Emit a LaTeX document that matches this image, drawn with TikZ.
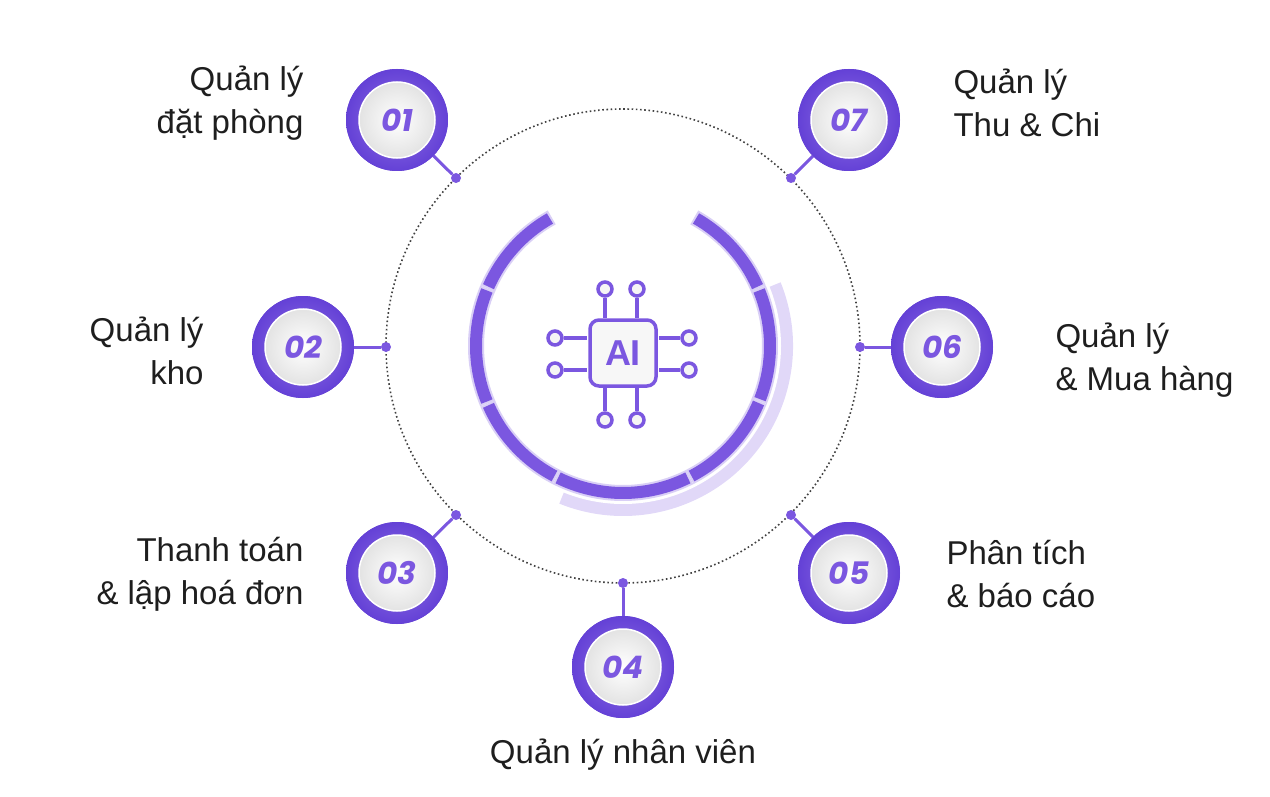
\documentclass[tikz,border=0pt]{standalone}
\usepackage{fontspec}
\setmainfont{Liberation Sans}
\newfontfamily\numfont{Poppins}
\usetikzlibrary{calc}
\definecolor{pur}{HTML}{7B57E0}
\definecolor{purd}{HTML}{6441D6}
\definecolor{purl}{HTML}{D9CFF6}
\definecolor{txt}{HTML}{1E1E1E}
\tikzset{
 badge/.style={circle,minimum size=102pt,inner sep=0pt,outer color=purd,inner color=pur!85!white},
 inner/.style={circle,minimum size=76pt,inner sep=0pt,draw=white,line width=1.5pt,inner color=white,outer color=gray!22},
 num/.style={font=\numfont\bfseries\itshape\fontsize{31}{31}\selectfont,text=pur},
 dot/.style={circle,fill=pur,minimum size=10pt,inner sep=0pt},
 conn/.style={pur,line width=3pt},
 lab/.style={font=\fontsize{33}{43}\selectfont,text=txt,align=#1},
 pin/.style={circle,draw=pur,line width=3.5pt,fill=gray!8,minimum size=14pt,inner sep=0pt},
 wire/.style={pur,line width=3.5pt},
}
\begin{document}
\begin{tikzpicture}[x=1pt,y=-1pt]
\useasboundingbox (0,0) rectangle (1270,797);
\coordinate (C) at (623,346);
% shadow crescent
\fill[purl!80] ($(C)+(-22:170)$) arc[start angle=-22,end angle=112,radius=170] -- ($(C)+(112:150)$) arc[start angle=112,end angle=-22,radius=150] -- cycle;
\fill[white] (C) circle[radius=158];
% dotted circle
\draw[dash pattern=on 1.6pt off 2.6pt,line width=1.6pt,black!75] (C) circle[radius=237];
% segmented ring
\foreach \a/\b in {119/157,157/203,203/243,243/297,297/338,338/383,23/61}{
 \draw[purl,line width=16pt] ($(C)+(-\a:147)$) arc[start angle=-\a,end angle=-\b,radius=147];
}
\foreach \a/\b in {119.8/156.2,157.8/202.2,203.8/242.2,243.8/296.2,297.8/337.2,338.8/382.2,23.8/60.2}{
 \draw[pur,line width=12pt] ($(C)+(-\a:147)$) arc[start angle=-\a,end angle=-\b,radius=147];
}
% AI chip
\node[draw=pur,line width=3.5pt,rounded corners=9pt,minimum size=66pt,fill=gray!6,font=\bfseries\fontsize{36}{36}\selectfont,text=pur] (chip) at (623,353) {AI};
\foreach \x/\n in {605/t1,637/t2}{
 \node[pin] (\n) at (\x,289) {};
 \draw[wire] (\n) -- (\x,318);
 \node[pin] (b\n) at (\x,420) {};
 \draw[wire] (b\n) -- (\x,388);
}
\foreach \y/\n in {338/l1,370/l2}{
 \node[pin] (\n) at (555,\y) {};
 \draw[wire] (\n) -- (587,\y);
 \node[pin] (r\n) at (689,\y) {};
 \draw[wire] (r\n) -- (659,\y);
}
% badges
\foreach \n/\bx/\by/\dx/\dy in {01/397/120/456/178, 02/303/347/386/347, 03/397/573/456/515, 04/623/667/623/583, 05/849/573/791/515, 06/942/347/860/347, 07/849/120/791/178}{
 \node[dot] (d\n) at (\dx,\dy) {};
 \node[badge] (b\n) at (\bx,\by) {};
 \draw[conn] (d\n) -- (b\n);
 \node[badge] at (\bx,\by) {};
 \node[inner] (i\n) at (\bx,\by) {};
 \node[num] at (\bx,\by) {\n};
}
% labels
\node[lab=right,anchor=east] (t1) at (307,103) {Quản lý\\đặt phòng};
\node[lab=right,anchor=east] (t2) at (207,351) {Quản lý\\kho};
\node[lab=right,anchor=east] (t3) at (307,574) {Thanh toán\\\& lập hoá đơn};
\node[lab=center] (t4) at (623,755) {Quản lý nhân viên};
\node[lab=left,anchor=west] (t5) at (943,574) {Phân tích\\\& báo cáo};
\node[lab=left,anchor=west] (t6) at (1052,360) {Quản lý\\\& Mua hàng};
\node[lab=left,anchor=west] (t7) at (950,103) {Quản lý\\Thu \& Chi};
\end{tikzpicture}
\end{document}
